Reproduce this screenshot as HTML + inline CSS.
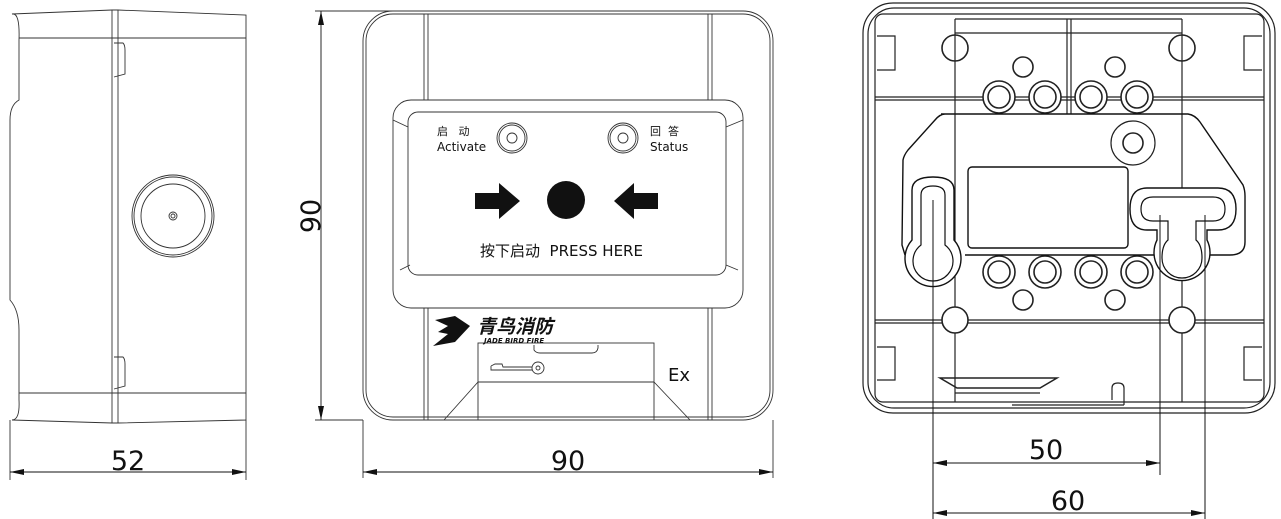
<!DOCTYPE html>
<html><head><meta charset="utf-8"><style>
html,body{margin:0;padding:0;background:#fff}
svg{display:block}
text{font-family:"DejaVu Sans","Liberation Sans","Noto Sans CJK SC",sans-serif;fill:#111}
</style></head><body>
<svg width="1281" height="519" viewBox="0 0 1281 519" xmlns="http://www.w3.org/2000/svg">
<defs>
<marker id="ar" markerWidth="14" markerHeight="6" refX="14" refY="3" orient="auto" markerUnits="userSpaceOnUse"><path d="M0,0 L14,3 L0,6 Z" fill="#111"/></marker>
<marker id="al" markerWidth="14" markerHeight="6" refX="0" refY="3" orient="auto" markerUnits="userSpaceOnUse"><path d="M14,0 L0,3 L14,6 Z" fill="#111"/></marker>
</defs>
<g fill="none" stroke="#333" stroke-width="0.9">
<!-- LEFT SIDE VIEW -->
<path d="M12,14 Q20,12 19,40 L19,100 Q10,105 10,120 L10,300 Q19,310 19,330 L19,400 Q20,420 12,420"/>
<path d="M12,14 L112,10 L118,10 L246,15 L246,420 L118,423 L112,423 L12,420"/>
<line x1="19" y1="38" x2="246" y2="38"/>
<line x1="19" y1="393" x2="246" y2="393"/>
<line x1="112" y1="10" x2="112" y2="423"/>
<line x1="118" y1="10" x2="118" y2="423"/>
<path d="M114,43 L123,43 Q125,45 125,50 L125,74 L114,77"/>
<path d="M114,357 L123,357 Q125,359 125,364 L125,386 L114,389"/>
<circle cx="173" cy="216" r="41"/><circle cx="173" cy="216" r="39"/><circle cx="173" cy="216" r="32"/>
<circle cx="173" cy="216" r="4"/><circle cx="173" cy="216" r="2"/>
<line x1="10" y1="420" x2="10" y2="480"/><line x1="246" y1="420" x2="246" y2="480"/>
<line x1="10" y1="472" x2="246" y2="472" stroke="#111" marker-start="url(#al)" marker-end="url(#ar)"/>

<!-- FRONT VIEW -->
<rect x="363" y="11" width="410" height="409" rx="30"/>
<rect x="366" y="14" width="404" height="403" rx="27"/>
<line x1="315" y1="11" x2="430" y2="11"/><line x1="315" y1="420" x2="363" y2="420"/>
<line x1="321" y1="11" x2="321" y2="420" stroke="#111" marker-start="url(#al)" marker-end="url(#ar)"/>
<line x1="363" y1="420" x2="363" y2="478"/><line x1="773" y1="420" x2="773" y2="478"/>
<line x1="363" y1="472" x2="773" y2="472" stroke="#111" marker-start="url(#al)" marker-end="url(#ar)"/>
<line x1="424" y1="14" x2="424" y2="100"/><line x1="428" y1="14" x2="428" y2="100"/>
<line x1="708" y1="14" x2="708" y2="100"/><line x1="712" y1="14" x2="712" y2="100"/>
<line x1="424" y1="308" x2="424" y2="420"/><line x1="428" y1="308" x2="428" y2="420"/>
<line x1="708" y1="308" x2="708" y2="420"/><line x1="712" y1="308" x2="712" y2="420"/>
<rect x="393" y="100" width="350" height="208" rx="18"/>
<rect x="408" y="112" width="318" height="163" rx="10"/>
<line x1="393" y1="120" x2="408" y2="127"/><line x1="743" y1="120" x2="726" y2="127"/>
<line x1="400" y1="270" x2="410" y2="265"/><line x1="738" y1="270" x2="726" y2="265"/>
<rect x="478" y="343" width="176" height="77"/>
<line x1="478" y1="382" x2="654" y2="382"/>
<path d="M534,345 L534,350 Q536,353 540,353 L592,353 Q597,353 598,348 L598,345"/>
<line x1="478" y1="382" x2="444" y2="420"/><line x1="654" y1="382" x2="690" y2="420"/>
<path d="M491,366 L495,364 L502,364 L503,367 L532,367 M491,366 L491,370 L532,370"/>
<circle cx="538" cy="368" r="6"/><circle cx="538" cy="368" r="2"/>
<circle cx="512" cy="138" r="15"/><circle cx="512" cy="138" r="13"/><circle cx="512" cy="138" r="5"/>
<circle cx="623" cy="138" r="15"/><circle cx="623" cy="138" r="13"/><circle cx="623" cy="138" r="5"/>
</g>
<!-- RIGHT BACK VIEW -->
<g fill="none" stroke="#222" stroke-width="1.2">
<rect x="863" y="3" width="412" height="410" rx="30"/>
<rect x="868" y="8" width="402" height="400" rx="26"/>
<rect x="875" y="14" width="389" height="388" rx="8"/>
<line x1="875" y1="97" x2="1264" y2="97"/><line x1="875" y1="100" x2="1264" y2="100"/>
<line x1="875" y1="320" x2="1264" y2="320"/><line x1="875" y1="323" x2="1264" y2="323"/>
<line x1="955" y1="19" x2="955" y2="402"/><line x1="1182" y1="19" x2="1182" y2="402"/>
<line x1="1067" y1="19" x2="1067" y2="114"/><line x1="1071" y1="19" x2="1071" y2="114"/>
<line x1="955" y1="19" x2="1182" y2="19"/><line x1="955" y1="33" x2="1182" y2="33"/>
<path d="M877,36 L895,36 L895,70 L877,70"/><path d="M1262,36 L1244,36 L1244,70 L1262,70"/>
<path d="M877,347 L895,347 L895,380 L877,380"/><path d="M1262,347 L1244,347 L1244,380 L1262,380"/>
<g stroke-width="1.6">
<circle cx="955" cy="48" r="13"/><circle cx="1182" cy="48" r="13"/>
<circle cx="955" cy="320" r="13" fill="#fff"/><circle cx="1182" cy="320" r="13" fill="#fff"/>
<circle cx="1023" cy="67" r="10"/><circle cx="1115" cy="67" r="10"/>
<circle cx="1023" cy="300" r="10"/><circle cx="1115" cy="300" r="10"/>
<circle cx="999" cy="97" r="16" fill="#fff"/><circle cx="999" cy="97" r="11"/>
<circle cx="1045" cy="97" r="16" fill="#fff"/><circle cx="1045" cy="97" r="11"/>
<circle cx="1091" cy="97" r="16" fill="#fff"/><circle cx="1091" cy="97" r="11"/>
<circle cx="1137" cy="97" r="16" fill="#fff"/><circle cx="1137" cy="97" r="11"/>
<circle cx="999" cy="272" r="16"/><circle cx="999" cy="272" r="11"/>
<circle cx="1045" cy="272" r="16"/><circle cx="1045" cy="272" r="11"/>
<circle cx="1091" cy="272" r="16"/><circle cx="1091" cy="272" r="11"/>
<circle cx="1137" cy="272" r="16"/><circle cx="1137" cy="272" r="11"/>
</g>
<path d="M941,114 L1188,114 Q1195,115 1200,122 L1243,185 Q1245,190 1245,196 L1245,242 Q1245,255 1230,255 L1210,255 M1155,255 L965,255 M905,255 L902,245 L903,160 Q904,155 908,150 L935,120 Q940,114 945,114" stroke="#111" stroke-width="1.4"/>
<rect x="968" y="167" width="160" height="81" rx="4" stroke="#111" stroke-width="1.4"/>
<circle cx="1133" cy="143" r="22"/><circle cx="1133" cy="143" r="10" stroke-width="1.6"/>
<path d="M912,190 Q912,177 933,177 Q954,177 954,190 L954,240 A28,28 0 1 1 912,240 Z" fill="#fff" stroke="#111" stroke-width="1.4"/>
<path d="M921,195 Q921,186 933,186 Q945,186 945,195 L945,245 A20,20 0 1 1 921,245 Z" stroke="#111"/>
<path d="M1147,188 L1218,188 Q1236,188 1236,209 Q1236,230 1218,230 L1207,230 L1207,240 A28,28 0 1 1 1157,240 L1157,230 L1147,230 Q1130,230 1130,209 Q1130,188 1147,188 Z" fill="#fff" stroke="#111" stroke-width="1.4"/>
<path d="M1153,197 L1213,197 Q1225,197 1225,209 Q1225,221 1213,221 L1196,221 L1196,240 Q1202,245 1202,258 A20,20 0 1 1 1162,258 Q1162,245 1168,240 L1168,221 L1153,221 Q1141,221 1141,209 Q1141,197 1153,197 Z" stroke="#111"/>
<path d="M940,378 L1057,378 L1040,388 L957,388 Z" stroke-width="1.5"/>
<line x1="955" y1="393" x2="1040" y2="393"/>
<path d="M1112,400 L1112,388 Q1112,383 1118,383 Q1124,383 1124,388 L1124,405"/>
<line x1="1012" y1="405" x2="1124" y2="405"/>
<line x1="933" y1="200" x2="933" y2="519" stroke="#111" stroke-width="1"/>
<line x1="1160" y1="215" x2="1160" y2="475" stroke="#111" stroke-width="1"/>
<line x1="1205" y1="215" x2="1205" y2="519" stroke="#111" stroke-width="1"/>
<line x1="933" y1="463" x2="1160" y2="463" stroke="#111" stroke-width="1" marker-start="url(#al)" marker-end="url(#ar)"/>
<line x1="933" y1="513" x2="1205" y2="513" stroke="#111" stroke-width="1" marker-start="url(#al)" marker-end="url(#ar)"/>
</g>
<!-- fills -->
<path d="M475,193 L499,193 L499,183 L520,201 L499,219 L499,209 L475,209 Z" fill="#111"/>
<circle cx="566" cy="200" r="19" fill="#111"/>
<path d="M658,193 L634,193 L634,183 L614,201 L634,219 L634,209 L658,209 Z" fill="#111"/>
<path d="M435,320 L455,316 L470,326 L455,342 L433,346 L448,334 L438,332 L448,326 Z" fill="#111"/>
<!-- text -->
<text x="128" y="470" font-size="27" text-anchor="middle">52</text>
<text x="568" y="470" font-size="27" text-anchor="middle">90</text>
<text transform="translate(320,216) rotate(-90)" font-size="27" text-anchor="middle">90</text>
<text x="1046" y="459" font-size="27" text-anchor="middle">50</text>
<text x="1068" y="510" font-size="27" text-anchor="middle">60</text>
<text x="437" y="135" font-size="11">启 &#160;&#160;动</text>
<text x="437" y="151" font-size="12">Activate</text>
<text x="650" y="135" font-size="11">回 &#160;答</text>
<text x="650" y="151" font-size="12">Status</text>
<text x="480" y="256" font-size="15">按下启动 &#160;PRESS HERE</text>
<text x="477" y="333" font-size="19" font-weight="bold" font-style="italic">青鸟消防</text>
<text x="484" y="343" font-size="7" font-style="italic" font-weight="bold">JADE BIRD FIRE</text>
<text x="668" y="381" font-size="18">Ex</text>
</svg>
</body></html>
